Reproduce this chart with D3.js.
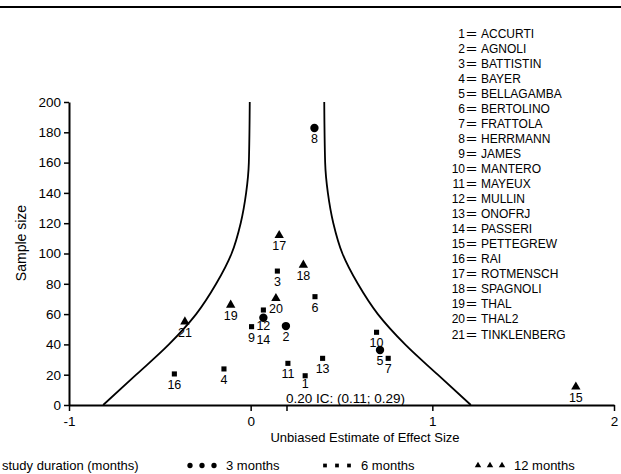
<!DOCTYPE html>
<html><head><meta charset="utf-8">
<script src="https://cdn.jsdelivr.net/npm/d3@7"></script>
<style>
body{margin:0;background:#fff}
text{font-family:"Liberation Sans",Arial,Helvetica,sans-serif;fill:#000}
</style>
</head><body>
<svg id="chart" width="621" height="474"></svg>
<script>
// ---------------- data ----------------
const studyIds = [1,2,3,4,5,6,7,8,9,10,11,12,13,14,15,16,17,18,19,20,21];
const studyNames = ["ACCURTI","AGNOLI","BATTISTIN","BAYER","BELLAGAMBA","BERTOLINO","FRATTOLA","HERRMANN","JAMES","MANTERO","MAYEUX","MULLIN","ONOFRJ","PASSERI","PETTEGREW","RAI","ROTMENSCH","SPAGNOLI","THAL","THAL2","TINKLENBERG"];
const effectSize = [0.30,0.194,0.147,-0.147,0.712,0.354,0.757,0.351,0.005,0.693,0.205,0.07,0.396,0.07,1.79,-0.42,0.157,0.29,-0.11,0.139,-0.362];
const sampleSize = [19.3,52.1,88.4,23.8,36.3,71.5,30.8,182.8,51.7,48,27.5,57.6,30.8,62.7,12,20.5,112,92.4,66,70.4,55];
const durationMonths = [6,3,6,6,3,6,6,3,6,6,6,3,6,6,12,6,12,12,12,12,12];
const durationValues = [3,6,12];
const durationLabels = ["3 months","6 months","12 months"];
const xTickValues = [-1,0,1,2];
const yTickValues = [0,20,40,60,80,100,120,140,160,180,200];
const pooledEffect = 0.20;
const pooledCI = [0.11,0.29];
// funnel limits: sample size and half-width around pooled effect
const funnelN = [200,160,140,120,100,80,60,40,20,0];
const funnelHalfWidth = [0.205,0.21,0.225,0.255,0.305,0.39,0.50,0.65,0.83,1.012];
// label nudges (layout only)
const labelNudge = {1:-3, 12:-3, 14:19};

// ---------------- layout ----------------
const svg = d3.select("#chart");
const x = d3.scaleLinear().domain([-1,2]).range([69,614]);
const y = d3.scaleLinear().domain([0,200]).range([405,102]);

// top rule
svg.append("line").attr("x1",0).attr("x2",621).attr("y1",7).attr("y2",7)
  .attr("stroke","#000").attr("stroke-width",2.2);

// funnel
const funnel = funnelN.map((n,i)=>({n, hw:funnelHalfWidth[i]}));
const line = d3.line().curve(d3.curveMonotoneY);
svg.append("path")
  .attr("d", line(funnel.map(d=>[x(pooledEffect-d.hw), y(d.n)])))
  .attr("fill","none").attr("stroke","#000").attr("stroke-width",1.8);
svg.append("path")
  .attr("d", line(funnel.map(d=>[x(pooledEffect+d.hw), y(d.n)])))
  .attr("fill","none").attr("stroke","#000").attr("stroke-width",1.8);

// axes
const yAxis = svg.append("g").attr("transform",`translate(${x(-1)},0)`)
  .call(d3.axisLeft(y).tickValues(yTickValues).tickSize(5).tickSizeOuter(0).tickPadding(3).tickFormat(d=>String(d)));
const xAxis = svg.append("g").attr("transform",`translate(0,${y(0)})`)
  .call(d3.axisBottom(x).tickValues(xTickValues).tickSize(6).tickSizeOuter(0).tickPadding(5).tickFormat(d=>String(d)));
[yAxis,xAxis].forEach(g=>{
  g.select(".domain").attr("stroke","#000").attr("stroke-width",2);
  g.selectAll(".tick line").attr("stroke","#000").attr("stroke-width",1.5);
  g.selectAll(".tick text").attr("font-size",13.5).attr("fill","#000")
   .style("font-family",'"Liberation Sans",Arial,sans-serif');
});
// pooled effect tick
svg.append("line").attr("x1",x(pooledEffect)).attr("x2",x(pooledEffect))
  .attr("y1",y(0)).attr("y2",y(0)+6).attr("stroke","#000").attr("stroke-width",1.5);
svg.append("text").attr("x",x(pooledEffect)-1).attr("y",y(0)-2)
  .attr("font-size",13.5)
  .text(`${pooledEffect.toFixed(2)} IC: (${pooledCI[0].toFixed(2)}; ${pooledCI[1].toFixed(2)})`);

// axis titles
svg.append("text").attr("transform",`translate(26,243) rotate(-90)`)
  .attr("text-anchor","middle").attr("font-size",14).text("Sample size");
svg.append("text").attr("x",365).attr("y",442).attr("text-anchor","middle")
  .attr("font-size",13).text("Unbiased Estimate of Effect Size");

// symbols
const symType = {3:d3.symbolCircle, 6:d3.symbolSquare, 12:d3.symbolTriangle};
const symSize = {3:55, 6:26, 12:38};
const studies = studyIds.map((id,i)=>({id,name:studyNames[i],e:effectSize[i],n:sampleSize[i],dur:durationMonths[i]}));
svg.append("g").selectAll("path").data(studies).join("path")
  .attr("transform",d=>`translate(${x(d.e)},${y(d.n)})`)
  .attr("d",d=>d3.symbol(symType[d.dur],symSize[d.dur])())
  .attr("fill","#000");
svg.append("g").selectAll("text").data(studies).join("text")
  .attr("x",d=>x(d.e)).attr("y",d=>y(d.n)+15+(labelNudge[d.id]||0))
  .attr("text-anchor","middle").attr("font-size",12.5).text(d=>d.id);

// name key
const key = svg.append("g");
studies.forEach((d,i)=>{
  const yy = 37.5 + i*15.05;
  key.append("text").attr("x",465).attr("y",yy).attr("text-anchor","end").attr("font-size",12).text(d.id);
  key.append("text").attr("x",466).attr("y",yy).attr("font-size",12)
    .attr("textLength",11).attr("lengthAdjust","spacingAndGlyphs").text("=");
  key.append("text").attr("x",481).attr("y",yy).attr("font-size",12).text(d.name);
});

// bottom legend
svg.append("text").attr("x",2).attr("y",470).attr("font-size",13).text("study duration (months)");
const legX = [190,325,478];
const legSize = {3:22, 6:14, 12:18};
durationValues.forEach((dv,k)=>{
  for(let j=0;j<3;j++){
    svg.append("path").attr("transform",`translate(${legX[k]+j*12},465.5)`)
      .attr("d",d3.symbol(symType[dv],legSize[dv])()).attr("fill","#000");
  }
  svg.append("text").attr("x",legX[k]+36).attr("y",470).attr("font-size",13).text(durationLabels[k]);
});
</script>
</body></html>
